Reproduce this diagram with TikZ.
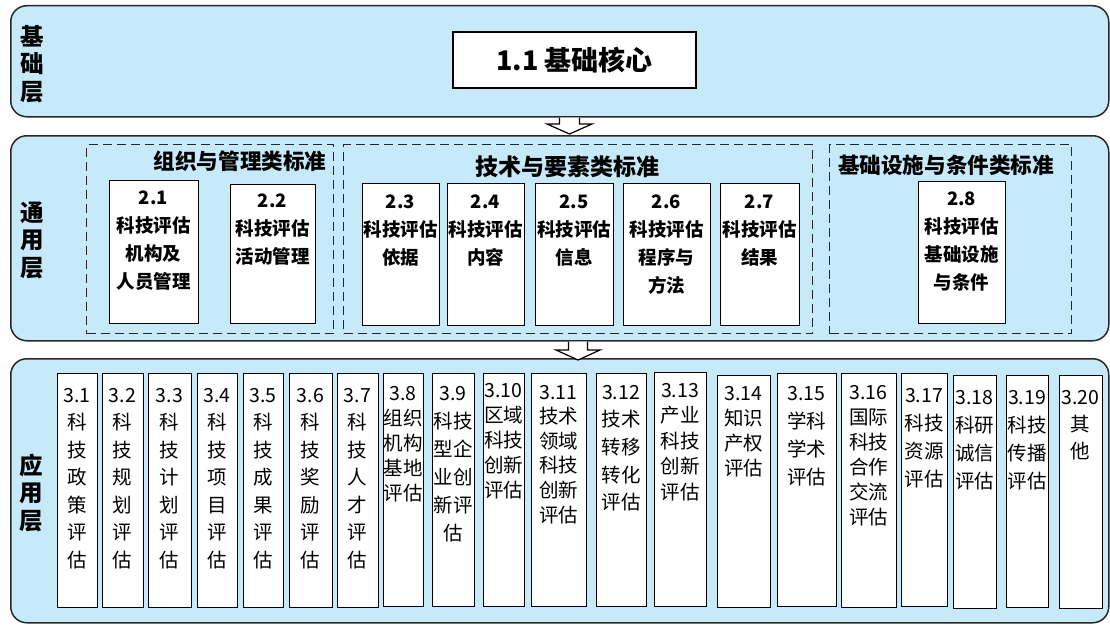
\documentclass[tikz,border=0pt]{standalone}
\usepackage{fontspec}
\setmainfont{Noto Sans CJK SC}
\usetikzlibrary{calc}
\definecolor{layerfill}{RGB}{199,234,250}
\definecolor{layerdraw}{RGB}{40,40,40}
\newcommand\mkrect[6]{% style name x1 y1 x2 y2
  \pgfmathsetmacro\myW{#5-#3}\pgfmathsetmacro\myH{#6-#4}%
  \node[#1, anchor=north west, minimum width=\myW pt, minimum height=\myH pt] (#2) at (#3,#4) {};}
\newcommand\appcol[8]{% name x1 x2 top bottom firstc pitch text
  \pgfmathsetmacro\myW{#3-#2}\pgfmathsetmacro\myH{#5-#4}%
  \pgfmathsetmacro\myX{(#2+#3)/2}\pgfmathsetmacro\myT{#6-7.2}%
  \node[appbox, anchor=north west, minimum width=\myW pt, minimum height=\myH pt] (b#1) at (#2,#4) {};
  \node[apptext, font=\fontsize{19.5}{#7}\selectfont, anchor=north] (t#1) at (\myX,\myT) {#8};}
\newcommand\gencol[7]{% name x1 x2 top bottom firstc text
  \pgfmathsetmacro\myW{#3-#2}\pgfmathsetmacro\myH{#5-#4}%
  \pgfmathsetmacro\myX{(#2+#3)/2}\pgfmathsetmacro\myT{#6-6.8}%
  \node[appbox, anchor=north west, minimum width=\myW pt, minimum height=\myH pt] (g#1) at (#2,#4) {};
  \node[apptext, font=\bfseries\fontsize{18.5}{28}\selectfont, anchor=north] (gt#1) at (\myX,\myT) {#7};}
\begin{document}
\begin{tikzpicture}[x=1pt,y=-1pt,
  layer/.style={draw=layerdraw, line width=1.5pt, fill=layerfill, rounded corners=16pt, inner sep=0pt},
  grp/.style={draw=black!85, line width=1.4pt, dash pattern=on 9pt off 5pt, inner sep=0pt},
  appbox/.style={draw=black, line width=1.2pt, fill=white, inner sep=0pt},
  apptext/.style={inner sep=0pt, align=center},
  layerlabel/.style={inner sep=0pt, align=center, font=\bfseries\fontsize{23.5}{27.5}\selectfont},
  grptitle/.style={inner sep=0pt, font=\bfseries\fontsize{21.6}{26}\selectfont},
  blockarrow/.style={draw=black, line width=1.2pt, fill=white, line join=miter}
]
\useasboundingbox (0,0) rectangle (1110,626);
% layers
\mkrect{layer}{L1}{10}{5}{1108}{116}
\mkrect{layer}{L2}{10}{135}{1108}{340}
\mkrect{layer}{L3}{10}{358}{1108}{622}
\node[layerlabel] (lab1) at (32,64) {基\\础\\层};
\node[layerlabel] (lab2) at (32,240) {通\\用\\层};
\node[layerlabel] (lab3) at (31,493) {应\\用\\层};
% base core
\node[appbox, minimum width=243pt, minimum height=56pt, font=\bfseries\fontsize{27}{32}\selectfont] (core) at (574.5,60) {1.1 基础核心};
% groups
\mkrect{grp}{G1}{86}{144}{333}{333}
\mkrect{grp}{G2}{343}{144}{812}{333}
\mkrect{grp}{G3}{829}{144}{1071}{333}
\node[grptitle] (gt1) at (240,161) {组织与管理类标准};
\node[grptitle, font=\bfseries\fontsize{23}{27}\selectfont] (gt2) at (567,167) {技术与要素类标准};
\node[grptitle] (gt3) at (946,165) {基础设施与条件类标准};
% general boxes
\gencol{21}{109}{198}{180}{323}{197}{2.1\\科技评估\\机构及\\人员管理}
\gencol{22}{230}{315}{184}{323}{200}{2.2\\科技评估\\活动管理}
\gencol{23}{362}{439}{183}{325}{201}{2.3\\科技评估\\依据}
\gencol{24}{447}{524}{183}{325}{201}{2.4\\科技评估\\内容}
\gencol{25}{535}{613}{183}{325}{201}{2.5\\科技评估\\信息}
\gencol{26}{623}{710}{183}{325}{201}{2.6\\科技评估\\程序与\\方法}
\gencol{27}{720}{799}{183}{325}{201}{2.7\\科技评估\\结果}
\gencol{28}{918}{1005}{181}{323}{198}{2.8\\科技评估\\基础设施\\与条件}
% application boxes
\appcol{31}{57}{97}{373}{607}{395}{27.5}{3.1\\科\\技\\政\\策\\评\\估}
\appcol{32}{102}{143}{373}{607}{395}{27.5}{3.2\\科\\技\\规\\划\\评\\估}
\appcol{33}{148}{191}{373}{607}{395}{27.5}{3.3\\科\\技\\计\\划\\评\\估}
\appcol{34}{197}{237}{373}{607}{395}{27.5}{3.4\\科\\技\\项\\目\\评\\估}
\appcol{35}{243}{283}{373}{607}{395}{27.5}{3.5\\科\\技\\成\\果\\评\\估}
\appcol{36}{289}{332}{373}{607}{395}{27.5}{3.6\\科\\技\\奖\\励\\评\\估}
\appcol{37}{337}{378}{373}{607}{395}{27.5}{3.7\\科\\技\\人\\才\\评\\估}
\appcol{38}{383}{423}{373}{606}{393}{25}{3.8\\组织\\机构\\基地\\评估}
\appcol{39}{432}{474}{373}{606}{393}{28}{3.9\\科技\\型企\\业创\\新评\\估}
\appcol{310}{483}{524}{373}{606}{390}{25}{3.10\\区域\\科技\\创新\\评估}
\appcol{311}{531}{586}{373}{606}{392}{24.6}{3.11\\技术\\领域\\科技\\创新\\评估}
\appcol{312}{596}{646}{373}{606}{392}{27.7}{3.12\\技术\\转移\\转化\\评估}
\appcol{313}{654}{706}{372}{606}{390}{25.5}{3.13\\产业\\科技\\创新\\评估}
\appcol{314}{717}{770}{375}{607}{393}{25}{3.14\\知识\\产权\\评估}
\appcol{315}{777}{836}{373}{606}{393}{28}{3.15\\学科\\学术\\评估}
\appcol{316}{841}{896}{373}{607}{392}{25}{3.16\\国际\\科技\\合作\\交流\\评估}
\appcol{317}{901}{947}{373}{606}{395}{28}{3.17\\科技\\资源\\评估}
\appcol{318}{953}{996}{375}{608}{397}{28}{3.18\\科研\\诚信\\评估}
\appcol{319}{1006}{1048}{375}{607}{397}{28}{3.19\\科技\\传播\\评估}
\appcol{320}{1059}{1102}{375}{608}{397}{27}{3.20\\其\\他}
% block arrows between layers
\coordinate (a1s) at (L1.south -| 569.5,0);
\coordinate (a1t) at (569.5,134);
\draw[blockarrow] ($(a1s)+(-10,0)$) -- ($(a1t)+(-10,-10)$) -- ($(a1t)+(-22.5,-10)$) -- (a1t)
  -- ($(a1t)+(22.5,-10)$) -- ($(a1t)+(10,-10)$) -- ($(a1s)+(10,0)$);
\coordinate (a2s) at (L2.south -| 578,0);
\coordinate (a2t) at (578,360);
\draw[blockarrow] ($(a2s)+(-9.5,0)$) -- ($(a2t)+(-9.5,-10)$) -- ($(a2t)+(-22,-10)$) -- (a2t)
  -- ($(a2t)+(22,-10)$) -- ($(a2t)+(9.5,-10)$) -- ($(a2s)+(9.5,0)$);
\end{tikzpicture}
\end{document}
